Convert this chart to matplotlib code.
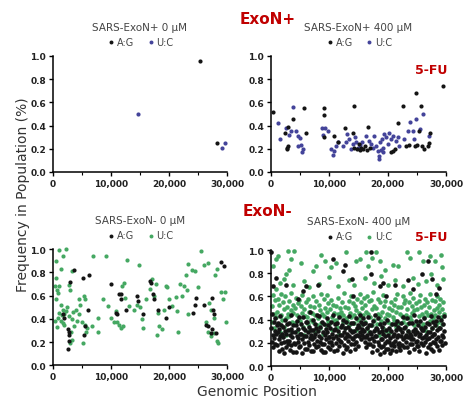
import numpy as np
import matplotlib
matplotlib.use('Agg')
import matplotlib.pyplot as plt

# ---- data ----

# SARS-ExoN+ 0 uM
tl_ag_x = [25300, 28200]
tl_ag_y = [0.96, 0.25]
tl_uc_x = [14700, 29200, 29700]
tl_uc_y = [0.50, 0.21, 0.25]

# SARS-ExoN+ 400 uM
tr_ag_x = [400, 2860, 2460, 2700, 2800, 2900, 3700, 5700, 6000, 9140, 9140, 9140,
           10860, 11500, 12740, 14290, 14000, 14300, 14800, 15200, 15500, 15800, 16100,
           16400, 16570, 17000, 20500, 20860, 21200, 21830, 22570, 23140, 23600, 24860,
           24700, 25100, 25710, 25310, 25900, 26860, 27000, 27260, 29540, 26200, 15100]
tr_ag_y = [0.52, 0.39, 0.335, 0.21, 0.20, 0.22, 0.46, 0.55, 0.34, 0.49, 0.55, 0.30,
           0.31, 0.26, 0.38, 0.57, 0.34, 0.21, 0.20, 0.19, 0.21, 0.20, 0.22,
           0.19, 0.39, 0.21, 0.17, 0.18, 0.20, 0.42, 0.57, 0.225, 0.23, 0.68,
           0.22, 0.23, 0.565, 0.355, 0.22, 0.225, 0.25, 0.34, 0.745, 0.20, 0.24]
tr_uc_x = [1250, 1600, 2570, 3430, 3830, 4290, 4570, 5000, 5140, 5310, 5430, 4570, 3140,
           8740, 9310, 9710, 8860, 10570, 10860, 11140, 11430, 10290,
           12290, 12860, 13430, 13710, 14000, 14460, 14570, 14860, 15600, 16200,
           16860, 17430, 17710, 18000, 18290, 18460, 18570, 18690, 19030, 19260, 19430,
           19710, 20000, 19140, 20290, 20570, 20860, 21430, 21710, 22000, 17200, 18800,
           22860, 23430, 23830, 24290, 24860, 24570, 25540, 26000, 27030, 15300, 13100]
tr_uc_y = [0.42, 0.28, 0.38, 0.355, 0.56, 0.35, 0.31, 0.29, 0.23, 0.17, 0.20, 0.225, 0.32,
           0.38, 0.38, 0.355, 0.32, 0.15, 0.18, 0.225, 0.255, 0.20,
           0.225, 0.255, 0.28, 0.20, 0.24, 0.30, 0.255, 0.21, 0.26, 0.31,
           0.27, 0.21, 0.31, 0.225, 0.18, 0.14, 0.11, 0.255, 0.28, 0.21, 0.325,
           0.30, 0.24, 0.17, 0.34, 0.28, 0.31, 0.27, 0.30, 0.225, 0.24, 0.19,
           0.28, 0.355, 0.43, 0.355, 0.455, 0.28, 0.37, 0.50, 0.31, 0.23, 0.33]

# SARS-ExoN- 0 uM
bl_ag_x = [2780, 2670, 2780, 2780, 2500, 1940, 1670, 2940, 3610, 5110, 6220, 5280, 5440,
           6110, 10000, 10830, 11110, 11670, 11780, 11390, 12670, 14440, 14720, 15560,
           16780, 16940, 17220, 17500, 18060, 19440, 20000, 24170, 24440, 24720, 26110,
           26390, 26670, 27220, 27500, 28060, 28890, 29440, 27500, 27670, 27780]
bl_ag_y = [0.21, 0.14, 0.29, 0.26, 0.31, 0.41, 0.44, 0.72, 0.82, 0.755, 0.775, 0.26, 0.34,
           0.48, 0.70, 0.45, 0.44, 0.61, 0.57, 0.61, 0.48, 0.60, 0.55, 0.44,
           0.73, 0.71, 0.61, 0.57, 0.48, 0.41, 0.50, 0.45, 0.52, 0.58, 0.52,
           0.35, 0.34, 0.28, 0.31, 0.28, 0.89, 0.855, 0.58, 0.48, 0.44]
bl_uc_x = [440, 1110, 2220, 1780, 1390, 560, 280, 670, 1110, 2780, 2890, 3220, 560, 1390,
           1670, 1940, 2220, 1110, 830, 1390, 1940, 2780, 3330, 3610, 3060, 3220, 2890,
           3890, 4440, 4170, 5000, 4720, 4440, 5280, 5560, 5560, 5830, 5110, 5670, 6940,
           9170, 7780, 6670, 7780, 8610, 9440, 10000, 10560, 10830, 11110, 11390, 11780,
           12110, 12780, 12220, 11940, 12500, 13060, 13890, 14440, 15000, 14890, 15280,
           15560, 16110, 16670, 17110, 17500, 17780, 18060, 18330, 17890, 18780, 19170,
           19440, 19720, 20000, 20560, 21220, 21390, 21560, 21940, 22220, 22670, 23060,
           23330, 22890, 23330, 23890, 24440, 25000, 25440, 26000, 26670, 26390, 26670,
           27220, 27780, 28220, 28440, 26940, 27220, 27780, 28890, 29720, 29890, 29330,
           28330, 27890, 300, 900, 1500, 2400, 3500, 700, 1800]
bl_uc_y = [0.90, 0.99, 1.00, 0.94, 0.83, 0.75, 0.68, 0.65, 0.68, 0.69, 0.65, 0.81, 0.57, 0.52,
           0.48, 0.44, 0.47, 0.45, 0.41, 0.38, 0.35, 0.42, 0.395, 0.34, 0.29, 0.22, 0.19,
           0.48, 0.44, 0.38, 0.37, 0.52, 0.57, 0.60, 0.57, 0.35, 0.32, 0.19, 0.285, 0.94,
           0.94, 0.41, 0.34, 0.29, 0.57, 0.51, 0.41, 0.37, 0.47, 0.37, 0.35, 0.32,
           0.34, 0.91, 0.71, 0.68, 0.58, 0.51, 0.48, 0.52, 0.50, 0.86, 0.395,
           0.32, 0.57, 0.66, 0.74, 0.60, 0.70, 0.45, 0.34, 0.26, 0.31, 0.48,
           0.68, 0.67, 0.57, 0.51, 0.59, 0.47, 0.29, 0.70, 0.60, 0.68, 0.65,
           0.44, 0.78, 0.87, 0.82, 0.81, 0.67, 0.985, 0.86, 0.885, 0.37, 0.29,
           0.25, 0.28, 0.21, 0.19, 0.54, 0.48, 0.41, 0.63, 0.63, 0.37, 0.57,
           0.83, 0.78, 0.38, 0.62, 0.43, 0.50, 0.46, 0.33, 0.36]

# SARS-ExoN- 400 uM
br_ag_x = [80, 160, 240, 310, 390, 450, 530, 610, 690, 760, 850, 940,
           1040, 1120, 1200, 1290, 1360, 1440, 1530, 1600, 1690, 1770, 1850, 1930,
           2030, 2110, 2200, 2270, 2350, 2440, 2520, 2600, 2680, 2770, 2850, 2940,
           3020, 3100, 3190, 3270, 3350, 3420, 3510, 3590, 3680, 3750, 3830, 3920,
           4050, 4130, 4210, 4290, 4380, 4450, 4540, 4620, 4700, 4780, 4860, 4950,
           5010, 5090, 5180, 5260, 5340, 5430, 5500, 5590, 5670, 5750, 5840, 5910,
           6040, 6120, 6210, 6290, 6370, 6440, 6530, 6610, 6690, 6780, 6860, 6930,
           7020, 7110, 7190, 7270, 7350, 7440, 7520, 7600, 7690, 7760, 7850, 7930,
           8030, 8110, 8200, 8280, 8360, 8430, 8520, 8600, 8680, 8770, 8850, 8940,
           9050, 9130, 9210, 9300, 9380, 9460, 9540, 9620, 9700, 9790, 9860, 9950,
           10020, 10100, 10190, 10270, 10350, 10430, 10520, 10600, 10680, 10760, 10850, 10930,
           11040, 11120, 11200, 11290, 11370, 11450, 11530, 11610, 11700, 11780, 11860, 11950,
           12030, 12110, 12190, 12280, 12360, 12440, 12520, 12610, 12690, 12770, 12850, 12940,
           13020, 13100, 13180, 13270, 13350, 13430, 13510, 13600, 13680, 13760, 13840, 13930,
           14040, 14120, 14210, 14290, 14370, 14450, 14540, 14620, 14700, 14780, 14860, 14950,
           15030, 15110, 15190, 15280, 15360, 15440, 15520, 15610, 15690, 15770, 15850, 15940,
           16020, 16100, 16190, 16270, 16350, 16430, 16520, 16600, 16680, 16760, 16850, 16930,
           17040, 17120, 17200, 17290, 17370, 17450, 17530, 17610, 17700, 17780, 17860, 17950,
           18030, 18110, 18190, 18280, 18360, 18440, 18520, 18610, 18690, 18770, 18850, 18940,
           19020, 19100, 19180, 19270, 19350, 19430, 19510, 19600, 19680, 19760, 19840, 19930,
           20040, 20120, 20210, 20290, 20370, 20450, 20540, 20620, 20700, 20780, 20860, 20950,
           21030, 21110, 21190, 21280, 21360, 21440, 21520, 21610, 21690, 21770, 21850, 21940,
           22020, 22100, 22180, 22270, 22350, 22430, 22510, 22600, 22680, 22760, 22840, 22930,
           23040, 23120, 23210, 23290, 23370, 23450, 23540, 23620, 23700, 23780, 23860, 23950,
           24030, 24110, 24190, 24280, 24360, 24440, 24520, 24610, 24690, 24770, 24850, 24940,
           25020, 25100, 25180, 25270, 25350, 25430, 25510, 25600, 25680, 25760, 25840, 25930,
           26040, 26120, 26210, 26290, 26370, 26450, 26540, 26620, 26700, 26780, 26860, 26950,
           27030, 27110, 27190, 27280, 27360, 27440, 27520, 27610, 27690, 27770, 27850, 27940,
           28020, 28100, 28180, 28270, 28350, 28430, 28510, 28600, 28680, 28760, 28840, 28930,
           29020, 29100, 29180, 29270, 29350, 29430, 29520, 29600, 29680, 29760,
           0, 860, 400, 2580, 4590, 5450, 6020, 8030, 10610, 12330, 12620, 13940, 14060,
           17210, 17210, 18640, 19210, 19790, 21220, 23520, 24380, 25810, 26960, 27540,
           28280, 28850]
br_ag_y = [.33, .21, .45, .27, .16, .38, .24, .30, .19, .41, .28, .35,
           .18, .29, .37, .23, .13, .32, .26, .43, .20, .35, .15, .28,
           .25, .34, .11, .21, .30, .40, .16, .28, .36, .22, .19, .31,
           .22, .37, .14, .27, .32, .18, .44, .25, .29, .12, .35, .20,
           .29, .19, .35, .12, .26, .39, .21, .32, .24, .16, .42, .28,
           .17, .28, .36, .23, .11, .33, .42, .20, .26, .31, .15, .38,
           .26, .15, .38, .29, .21, .34, .18, .47, .24, .31, .13, .27,
           .23, .31, .13, .40, .25, .19, .36, .28, .16, .33, .22, .44,
           .30, .17, .26, .43, .21, .34, .14, .24, .38, .19, .29, .12,
           .19, .36, .27, .12, .32, .23, .41, .29, .16, .35, .25, .21,
           .25, .15, .33, .21, .38, .28, .18, .44, .24, .31, .13, .36,
           .32, .20, .26, .14, .37, .23, .30, .17, .42, .27, .22, .34,
           .21, .35, .27, .11, .40, .18, .29, .24, .33, .15, .38, .26,
           .28, .16, .34, .22, .43, .26, .13, .31, .19, .37, .24, .29,
           .23, .37, .19, .30, .15, .26, .41, .21, .33, .27, .17, .35,
           .34, .26, .44, .29, .38, .23, .32, .27, .41, .30, .36, .25,
           .30, .21, .37, .25, .16, .33, .27, .42, .19, .35, .23, .29,
           .19, .28, .35, .12, .24, .39, .17, .30, .22, .44, .26, .33,
           .26, .14, .32, .21, .41, .18, .29, .10, .36, .23, .16, .30,
           .23, .34, .17, .28, .12, .37, .20, .26, .31, .15, .40, .22,
           .15, .27, .21, .33, .11, .24, .18, .30, .14, .36, .20, .26,
           .28, .17, .36, .22, .13, .31, .25, .39, .19, .34, .27, .16,
           .20, .32, .14, .26, .37, .18, .29, .23, .42, .16, .33, .25,
           .34, .21, .27, .16, .41, .25, .30, .12, .37, .19, .28, .23,
           .26, .37, .19, .30, .23, .44, .15, .32, .28, .21, .39, .17,
           .22, .29, .17, .35, .26, .13, .39, .28, .20, .33, .24, .31,
           .31, .18, .25, .41, .21, .34, .11, .27, .37, .23, .16, .29,
           .24, .36, .19, .29, .15, .43, .26, .33, .21, .38, .13, .28,
           .28, .20, .35, .23, .39, .17, .31, .25, .42, .14, .33, .22,
           .33, .22, .40, .27, .18, .36, .25, .30, .43, .20,
           .98, .76, .69, .70, .575, .65, .69, .70, .92, .82, .875, .75, .60,
           .98, .79, .69, .72, .60, .70, .74, .66, .79, .905, .75,
           .62, .675]
br_uc_x = [120, 240, 350, 470, 580, 700, 810, 930,
           1060, 1180, 1290, 1410, 1520, 1640, 1750, 1870,
           2050, 2170, 2280, 2400, 2510, 2630, 2740, 2860,
           3040, 3160, 3270, 3390, 3500, 3620, 3730, 3850,
           4070, 4180, 4300, 4410, 4530, 4640, 4760, 4870,
           5020, 5140, 5250, 5370, 5480, 5600, 5710, 5830,
           6060, 6170, 6290, 6400, 6520, 6630, 6750, 6860,
           7030, 7150, 7260, 7380, 7490, 7610, 7720, 7840,
           8080, 8190, 8310, 8420, 8540, 8650, 8770, 8880,
           9050, 9160, 9280, 9390, 9510, 9620, 9740, 9850,
           10020, 10140, 10250, 10370, 10480, 10600, 10710, 10830,
           11070, 11180, 11300, 11410, 11530, 11640, 11760, 11870,
           12040, 12150, 12270, 12380, 12500, 12610, 12730, 12840,
           13060, 13170, 13290, 13400, 13520, 13630, 13750, 13860,
           14030, 14140, 14260, 14370, 14490, 14600, 14720, 14830,
           15080, 15190, 15310, 15420, 15540, 15650, 15770, 15880,
           16050, 16160, 16280, 16390, 16510, 16620, 16740, 16850,
           17020, 17130, 17250, 17360, 17480, 17590, 17710, 17820,
           18070, 18180, 18300, 18410, 18530, 18640, 18760, 18870,
           19040, 19150, 19270, 19380, 19500, 19610, 19730, 19840,
           20060, 20170, 20290, 20400, 20520, 20630, 20750, 20860,
           21030, 21140, 21260, 21370, 21490, 21600, 21720, 21830,
           22080, 22190, 22310, 22420, 22540, 22650, 22770, 22880,
           23050, 23160, 23280, 23390, 23510, 23620, 23740, 23850,
           24020, 24130, 24250, 24360, 24480, 24590, 24710, 24820,
           25070, 25180, 25300, 25410, 25530, 25640, 25760, 25870,
           26040, 26150, 26270, 26380, 26500, 26610, 26730, 26840,
           27060, 27170, 27290, 27400, 27520, 27630, 27750, 27860,
           28030, 28140, 28260, 28370, 28490, 28600, 28720, 28830,
           29050, 29160, 29280, 29390, 29510, 29620,
           1500, 2300, 3700, 5600, 6500, 8300, 9900, 11500, 13400, 14200, 16100,
           17600, 18900, 20100, 21300, 22700, 24300, 25200, 26600, 27400, 28500, 29400,
           1150, 860, 2870, 4010, 3440, 5160, 3150, 2580, 400, 7170, 7740, 9180, 8600,
           10320, 11190, 12910, 14630, 15320, 16350, 16630, 17380, 18070, 18640, 19500,
           20940, 21800, 23350, 23810, 25410, 26100, 27250, 28110, 29080, 29250]
br_uc_y = [.52, .38, .61, .45, .33, .57, .42, .66,
           .47, .58, .36, .53, .29, .44, .62, .40,
           .55, .34, .49, .60, .41, .27, .51, .45,
           .43, .56, .31, .48, .63, .38, .53, .46,
           .50, .37, .59, .44, .30, .54, .41, .57,
           .39, .52, .46, .61, .34, .49, .27, .43,
           .55, .42, .36, .58, .47, .31, .52, .40,
           .46, .60, .38, .51, .29, .44, .56, .35,
           .41, .53, .33, .48, .62, .37, .45, .28,
           .58, .43, .50, .35, .47, .61, .39, .54,
           .36, .49, .57, .42, .31, .53, .46, .39,
           .52, .40, .34, .59, .45, .28, .50, .43,
           .47, .55, .38, .44, .63, .33, .51, .41,
           .39, .50, .56, .35, .46, .60, .42, .30,
           .54, .44, .37, .52, .31, .48, .58, .40,
           .46, .62, .41, .55, .36, .50, .44, .59,
           .53, .38, .47, .60, .33, .45, .56, .29,
           .42, .57, .35, .49, .64, .40, .52, .31,
           .50, .36, .45, .58, .27, .43, .55, .39,
           .47, .61, .33, .52, .41, .56, .30, .45,
           .38, .50, .44, .29, .55, .36, .48, .42,
           .53, .40, .58, .34, .47, .62, .37, .51,
           .45, .32, .51, .43, .60, .38, .54, .41,
           .57, .44, .36, .49, .30, .55, .42, .63,
           .40, .52, .46, .59, .35, .48, .31, .54,
           .49, .37, .56, .43, .61, .34, .51, .45,
           .36, .53, .42, .58, .47, .30, .55, .44,
           .51, .39, .62, .45, .33, .57, .41, .48,
           .44, .56, .35, .50, .60, .38, .47, .53,
           .58, .42, .49, .36, .55, .45,
           .72, .75, .70, .73, .68, .71, .77, .69, .74, .70, .76,
           .72, .78, .70, .74, .69, .76, .71, .73, .79, .70, .75,
           .95, .92, .99, .99, .92, .89, .83, .79, .86, .82, .86, .905, .96,
           .85, .89, .98, .905, .92, .98, .86, .93, .98, .905, .83,
           .875, .86, .98, .93, .98, .905, .95, .905, .96, .85]

titles = ['SARS-ExoN+ 0 \u00b5M', 'SARS-ExoN+ 400 \u00b5M',
          'SARS-ExoN- 0 \u00b5M', 'SARS-ExoN- 400 \u00b5M']
xticks = [0, 10000, 20000, 30000]
xticklabels = ['0', '10,000', '20,000', '30,000']
yticks = [0.0, 0.2, 0.4, 0.6, 0.8, 1.0]

AG_COLOR = '#141414'
BLUE = '#44449a'
GREEN = '#45a862'


def plotPanel(ax, title, agX, agY, ucX, ucY, ucColor, size):
	ax.scatter(ucX, ucY, s=size, color=ucColor, linewidths=0, clip_on=False, zorder=2)
	ax.scatter(agX, agY, s=size, color=AG_COLOR, linewidths=0, clip_on=False, zorder=3)
	ax.set_xlim(0, 30000)
	ax.set_ylim(0, 1.0)
	for side in ['top', 'right']:
		ax.spines[side].set_visible(False)
	for side in ['left', 'bottom']:
		ax.spines[side].set_linewidth(1.1)
	ax.set_xticks(xticks)
	ax.set_xticklabels(xticklabels)
	ax.set_xticks([5000, 15000, 25000], minor=True)
	ax.set_yticks(yticks)
	ax.set_yticklabels(['%.1f' % v for v in yticks])
	ax.tick_params(axis='both', which='major', length=3, width=1.0, pad=2,
				   labelsize=6.5, labelcolor='#222222')
	ax.tick_params(axis='x', which='minor', length=2, width=0.8)
	for lbl in ax.get_xticklabels() + ax.get_yticklabels():
		lbl.set_fontweight('bold')
	ax.text(0.5, 1.25, title, transform=ax.transAxes, ha='center', va='center',
			fontsize=7.5, color='#444444')
	h1 = ax.scatter([], [], s=8, color=AG_COLOR, linewidths=0)
	h2 = ax.scatter([], [], s=8, color=ucColor, linewidths=0)
	leg = ax.legend([h1, h2], ['A:G', 'U:C'], loc='center', bbox_to_anchor=(0.5, 1.12),
					ncol=2, frameon=False, fontsize=7, handletextpad=0.1,
					columnspacing=1.2, borderpad=0, handlelength=1.0)
	for t in leg.get_texts():
		t.set_color('#444444')


fig = plt.figure(figsize=(4.72, 4.06), dpi=100)

axTL = fig.add_axes([0.1123, 0.574, 0.3686, 0.2857])
axTR = fig.add_axes([0.5742, 0.574, 0.3708, 0.2857])
axBL = fig.add_axes([0.1123, 0.098, 0.3686, 0.2857])
axBR = fig.add_axes([0.5742, 0.096, 0.3708, 0.2857])

plotPanel(axTL, titles[0], tl_ag_x, tl_ag_y, tl_uc_x, tl_uc_y, BLUE, 9)
plotPanel(axTR, titles[1], tr_ag_x, tr_ag_y, tr_uc_x, tr_uc_y, BLUE, 9)
plotPanel(axBL, titles[2], bl_ag_x, bl_ag_y, bl_uc_x, bl_uc_y, GREEN, 9)
plotPanel(axBR, titles[3], br_ag_x, br_ag_y, br_uc_x, br_uc_y, GREEN, 11)

# red annotations
fig.text(240 / 472, 1 - 19 / 406, 'ExoN+', color='#c00000', fontsize=11,
		 fontweight='bold', ha='left', va='center')
fig.text(243 / 472, 1 - 212 / 406, 'ExoN-', color='#c00000', fontsize=11,
		 fontweight='bold', ha='left', va='center')
fig.text(415 / 472, 1 - 70 / 406, '5-FU', color='#c00000', fontsize=9,
		 fontweight='bold', ha='left', va='center')
fig.text(415 / 472, 1 - 238 / 406, '5-FU', color='#c00000', fontsize=9,
		 fontweight='bold', ha='left', va='center')

fig.text(23 / 472, 1 - 195 / 406, 'Frequency in Population (%)', rotation=90,
		 ha='center', va='center', fontsize=10, color='#333333')
fig.text(257 / 472, 1 - 392 / 406, 'Genomic Position', ha='center', va='center',
		 fontsize=10, color='#333333')

fig.savefig('out.png', dpi=100)
